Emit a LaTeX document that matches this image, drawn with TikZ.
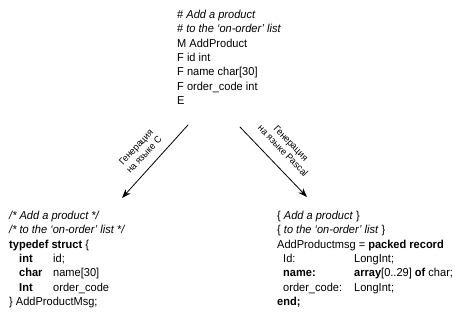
\documentclass[tikz,border=0pt]{standalone}
\usepackage{fontspec}
\setmainfont{Liberation Sans}[FakeStretch=0.96]
\usetikzlibrary{arrows.meta}

\tikzset{
  code/.style={anchor=north west,inner sep=0pt,align=left,
    font=\fontsize{11.5}{14.3}\selectfont},
  genlabel/.style={inner sep=0pt,align=center,
    font=\fontsize{9.5}{11}\selectfont},
  genarrow/.style={line width=0.8pt,-{Stealth[length=9pt,width=6.5pt]}}
}
\newcommand{\colA}[1]{\makebox[34pt][l]{#1}}
\newcommand{\colB}[1]{\makebox[71pt][l]{#1}}

\begin{document}
\begin{tikzpicture}[x=1pt,y=-1pt,line cap=round,line join=round]
\useasboundingbox (0,0) rectangle (459,315);

% message description
\node[code] (spec) at (177,10) {%
  \# \textit{Add a product}\\
  \# \textit{to the `on-order' list}\\
  M AddProduct\\
  F id int\\
  F name char[30]\\
  F order\_code int\\
  E};

% C output
\node[code] (cblock) at (9,211) {%
  \textit{/* Add a product */}\\
  \textit{/* to the `on-order' list */}\\
  \textbf{typedef struct} \{\\
  \hspace*{10pt}\colA{\textbf{int}}id;\\
  \hspace*{10pt}\colA{\textbf{char}}name[30]\\
  \hspace*{10pt}\colA{\textbf{Int}}order\_code\\
  \} AddProductMsg;};

% Pascal output
\node[code] (pblock) at (277,211) {%
  \{ \textit{Add a product} \}\\
  \{ \textit{to the `on-order' list} \}\\
  AddProductmsg = \textbf{packed record}\\
  \hspace*{6pt}\colB{Id:}LongInt;\\
  \hspace*{6pt}\colB{\textbf{name:}}\textbf{array}[0..29] \textbf{of} char;\\
  \hspace*{6pt}\colB{order\_code:}LongInt;\\
  \textbf{end;}};

% arrows
\coordinate (cstart) at (188,125);
\coordinate (cend) at (122,198);
\coordinate (pstart) at (240,127);
\coordinate (pend) at (307,197);
\draw[genarrow] (cstart) -- (cend);
\draw[genarrow] (pstart) -- (pend);

% arrow labels
\node[genlabel,rotate=47] (clabel) at (140,151) {Генерация\\на языке C};
\node[genlabel,rotate=-46] (plabel) at (287,147) {Генерация\\на языке Pascal};

\end{tikzpicture}
\end{document}
